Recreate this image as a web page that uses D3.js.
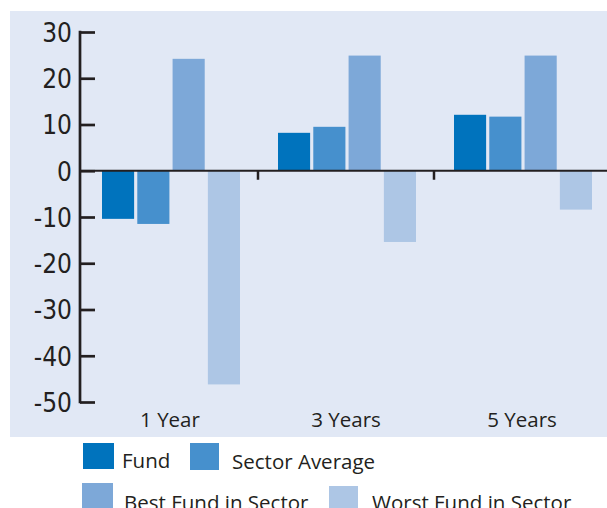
<!DOCTYPE html>
<html>
<head>
<meta charset="utf-8">
<script src="https://cdn.jsdelivr.net/npm/d3@7"></script>
<style>
  html, body { margin: 0; padding: 0; background: #fff; }
  svg { display: block; }
</style>
</head>
<body>
<svg id="chart" width="607" height="508"></svg>
<script>
const categories = ["1 Year", "3 Years", "5 Years"];
const series = ["Fund", "Sector Average", "Best Fund in Sector", "Worst Fund in Sector"];
const fund = [-10.4, 8.2, 12.1];
const sectorAverage = [-11.5, 9.5, 11.7];
const bestFund = [24.2, 24.9, 24.9];
const worstFund = [-46.2, -15.4, -8.4];
const yTicks = [30, 20, 10, 0, -10, -20, -30, -40, -50];

const colors = ["#0073bd", "#4690cd", "#7da8d8", "#adc6e5"];
const values = [fund, sectorAverage, bestFund, worstFund];

const svg = d3.select("#chart");

// panel background
svg.append("rect")
  .attr("x", 10).attr("y", 11)
  .attr("width", 597).attr("height", 426)
  .attr("fill", "#e1e8f5");

const y = d3.scaleLinear().domain([-50, 30]).range([402, 32]);
const x0 = d3.scaleBand().domain(categories).range([82, 610]).padding(0);
const x1 = d3.scaleBand().domain(series)
  .range([20, x0.bandwidth() - 18])
  .paddingInner(0.09);

// bars
const rows = categories.map((c, i) => series.map((s, j) => ({ cat: c, key: s, value: values[j][i], color: colors[j] })));

svg.append("g")
  .selectAll("g")
  .data(rows)
  .join("g")
  .attr("transform", d => `translate(${x0(d[0].cat)},0)`)
  .selectAll("rect")
  .data(d => d)
  .join("rect")
  .attr("x", d => x1(d.key))
  .attr("width", x1.bandwidth())
  .attr("y", d => y(Math.max(0, d.value)))
  .attr("height", d => Math.abs(y(d.value) - y(0)))
  .attr("fill", d => d.color);

// zero line
svg.append("line")
  .attr("x1", 80).attr("x2", 607)
  .attr("y1", y(0)).attr("y2", y(0))
  .attr("stroke", "#231f20").attr("stroke-width", 2);

// category separators
svg.append("g")
  .selectAll("line")
  .data(categories.slice(1))
  .join("line")
  .attr("x1", d => x0(d)).attr("x2", d => x0(d))
  .attr("y1", y(0)).attr("y2", y(0) + 9)
  .attr("stroke", "#231f20").attr("stroke-width", 2.5);

// y axis
const yAxis = d3.axisRight(y).tickValues(yTicks).tickSize(15).tickFormat(d => String(d));
const ax = svg.append("g").attr("transform", "translate(80,0)").call(yAxis);
ax.select(".domain").remove();
ax.selectAll(".tick line").attr("stroke", "#231f20").attr("stroke-width", 2.7);
ax.selectAll(".tick text")
  .attr("x", -8)
  .attr("text-anchor", "end")
  .attr("dy", "0.36em")
  .attr("fill", "#231f20")
  .style("font-family", "'Liberation Sans Narrow', 'DejaVu Sans Condensed', Roboto, sans-serif")
  .style("font-size", "26px");
ax.append("line")
  .attr("x1", 0).attr("x2", 0)
  .attr("y1", y(30) - 1.3).attr("y2", y(-50) + 1.3)
  .attr("stroke", "#231f20").attr("stroke-width", 2.7);

// category labels
svg.append("g")
  .selectAll("text")
  .data(categories)
  .join("text")
  .attr("x", d => x0(d) + x0.bandwidth() / 2)
  .attr("y", 427)
  .attr("text-anchor", "middle")
  .attr("fill", "#231f20")
  .style("font-family", "'Open Sans', sans-serif")
  .style("font-size", "20.5px")
  .text(d => d);

// legend
const legendPos = [
  { sx: 83, sy: 443, sw: 31, sh: 26, tx: 122, ty: 468 },
  { sx: 190, sy: 443, sw: 29, sh: 27, tx: 232, ty: 469 },
  { sx: 82, sy: 483, sw: 31, sh: 28, tx: 124, ty: 510 },
  { sx: 329, sy: 486, sw: 29, sh: 26, tx: 372, ty: 510 }
];
const lg = svg.append("g")
  .selectAll("g")
  .data(series)
  .join("g");
lg.append("rect")
  .attr("x", (d, i) => legendPos[i].sx).attr("y", (d, i) => legendPos[i].sy)
  .attr("width", (d, i) => legendPos[i].sw).attr("height", (d, i) => legendPos[i].sh)
  .attr("fill", (d, i) => colors[i]);
lg.append("text")
  .attr("x", (d, i) => legendPos[i].tx).attr("y", (d, i) => legendPos[i].ty)
  .attr("fill", "#231f20")
  .style("font-family", "'Open Sans', sans-serif")
  .style("font-size", "20.5px")
  .text(d => d);
</script>
</body>
</html>
